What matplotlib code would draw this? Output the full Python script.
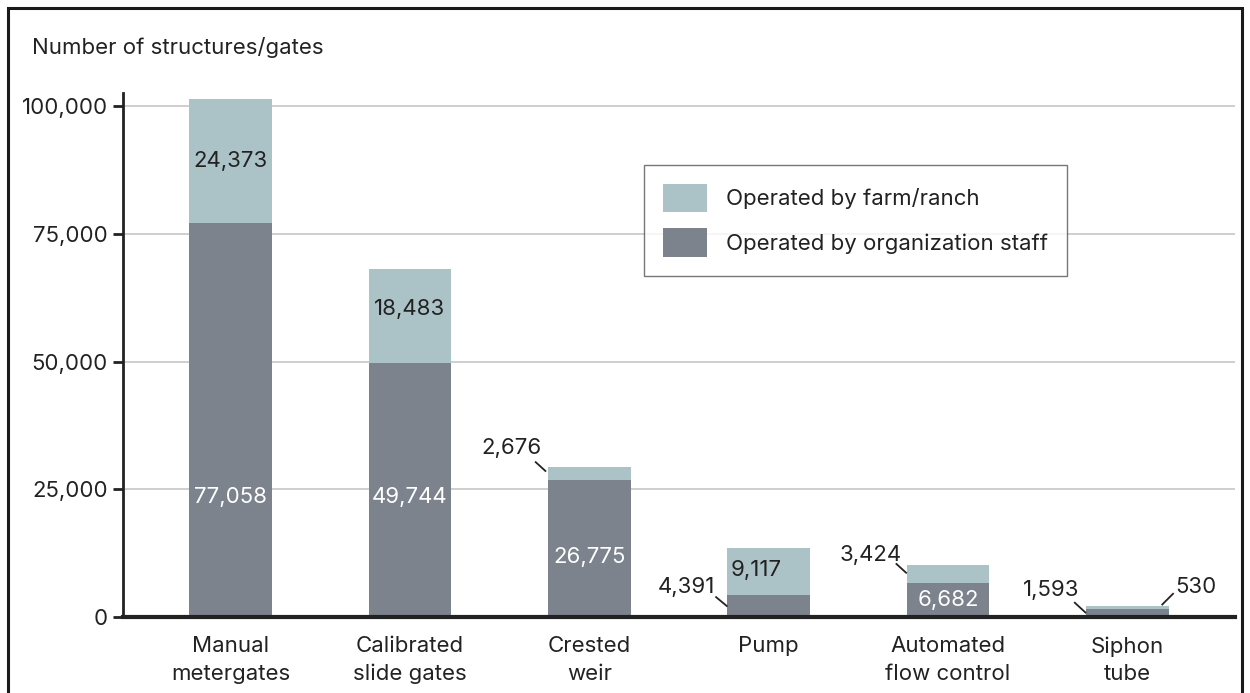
import matplotlib
matplotlib.use("Agg")
import matplotlib.pyplot as plt
from matplotlib.patches import Rectangle, Patch
from matplotlib.ticker import FuncFormatter

plt.rcParams["font.family"] = ["Inter", "DejaVu Sans"]

categories = ["Manual\nmetergates", "Calibrated\nslide gates", "Crested\nweir",
              "Pump", "Automated\nflow control", "Siphon\ntube"]
staff = [77058, 49744, 26775, 4391, 6682, 1593]
farm = [24373, 18483, 2676, 9117, 3424, 530]
yticks = [0, 25000, 50000, 75000, 100000]

LIGHT = "#abc2c7"
DARK = "#7c838d"
TEXT = "#222222"
FS = 16

fig = plt.figure(figsize=(12.5, 6.93), dpi=100)
ax = fig.add_axes([0.0984, 0.1097, 0.8896, 0.7561])

x = list(range(len(categories)))
width = 0.46
ax.bar(x, staff, width, color=DARK, zorder=3)
ax.bar(x, farm, width, bottom=staff, color=LIGHT, zorder=3)

ax.set_xlim(-0.6, 5.6)
ax.set_ylim(0, 102600)
ax.set_yticks(yticks)
ax.yaxis.set_major_formatter(FuncFormatter(lambda v, p: f"{int(v):,}"))
ax.set_xticks(x)
ax.set_xticklabels(categories, fontsize=FS, color=TEXT, linespacing=1.45)
ax.tick_params(axis="x", length=0, pad=14)
ax.tick_params(axis="y", length=7, width=2, color=TEXT, labelsize=FS,
               labelcolor=TEXT, pad=4)
ax.grid(axis="y", color="#cfcfcf", linewidth=1.4, zorder=0)
ax.set_axisbelow(True)
for s in ("top", "right"):
    ax.spines[s].set_visible(False)
ax.spines["left"].set_linewidth(2)
ax.spines["left"].set_color(TEXT)
ax.spines["bottom"].set_linewidth(3)
ax.spines["bottom"].set_color(TEXT)
ax.spines["bottom"].set_zorder(5)

# Values written inside the bars
inside = [
    (0, 89200, TEXT, farm[0]),
    (1, 60400, TEXT, farm[1]),
    (0, 23500, "white", staff[0]),
    (1, 23500, "white", staff[1]),
    (2, 11700, "white", staff[2]),
    (4, 3300, "white", staff[4]),
]
for xi, yy, col, val in inside:
    ax.text(xi, yy, f"{val:,}", ha="center", va="center", fontsize=FS,
            color=col, zorder=4)
ax.text(3 - width / 2 + 0.02, 9200, f"{farm[3]:,}", ha="left", va="center",
        fontsize=FS, color=TEXT, zorder=4)


def shifted(pt, off):
    """Data point moved by a pixel offset (x right, y up)."""
    px, py = ax.transData.transform(pt)
    return ax.transData.inverted().transform((px + off[0], py + off[1]))


# Values with leader lines: anchor, text offset, line start/end offsets (pixels)
def leader(val, anchor, toff, ha, l0, l1):
    ax.annotate(f"{val:,}", xy=anchor, xytext=toff, textcoords="offset pixels",
                ha=ha, va="center", fontsize=FS, color=TEXT, zorder=6,
                annotation_clip=False)
    p0 = shifted(anchor, l0)
    p1 = shifted(anchor, l1)
    ax.plot([p0[0], p1[0]], [p0[1], p1[1]], color=TEXT, lw=1.3,
            solid_capstyle="butt", zorder=6, clip_on=False)


half = width / 2
leader(farm[2], (2 - half, staff[2] + farm[2]), (-6, 19), "right", (-13, 5), (-2, -5))
leader(staff[3], (3 - half, staff[3]), (-12, 8), "right", (-12, -2), (0, -12))
leader(farm[4], (4 - half, staff[4] + farm[4]), (-5, 10), "right", (-11, 2), (0, -8))
leader(staff[5], (5 - half, staff[5] + farm[5]), (-7, 16), "right", (-12, 4), (0, -7))
leader(farm[5], (5 + half, staff[5] + farm[5]), (7, 19), "left", (-7, 1), (5, 13))

# Axis title
fig.text(32 / 1250, 1 - 47 / 693, "Number of structures/gates", fontsize=FS,
         color=TEXT, ha="left", va="center")

# Legend
handles = [Patch(facecolor=LIGHT, edgecolor="none"),
           Patch(facecolor=DARK, edgecolor="none")]
leg = fig.legend(handles, ["Operated by farm/ranch", "Operated by organization staff"],
                 loc="upper left", bbox_to_anchor=(644 / 1250, 1 - 165 / 693),
                 fontsize=FS, frameon=True, fancybox=False, handlelength=1.98,
                 handleheight=1.6, handletextpad=0.86, labelspacing=0.72,
                 borderpad=0.85, borderaxespad=0)
leg.get_frame().set_edgecolor("#555555")
leg.get_frame().set_linewidth(1.0)
for t in leg.get_texts():
    t.set_color(TEXT)

# Outer frame
fig.patches.append(Rectangle((8 / 1250, -0.05), 1234 / 1250, 1 - 8 / 693 + 0.05,
                             transform=fig.transFigure, fill=False,
                             edgecolor="#1a1a1a", linewidth=2.2))

fig.savefig("out.png", dpi=100)
